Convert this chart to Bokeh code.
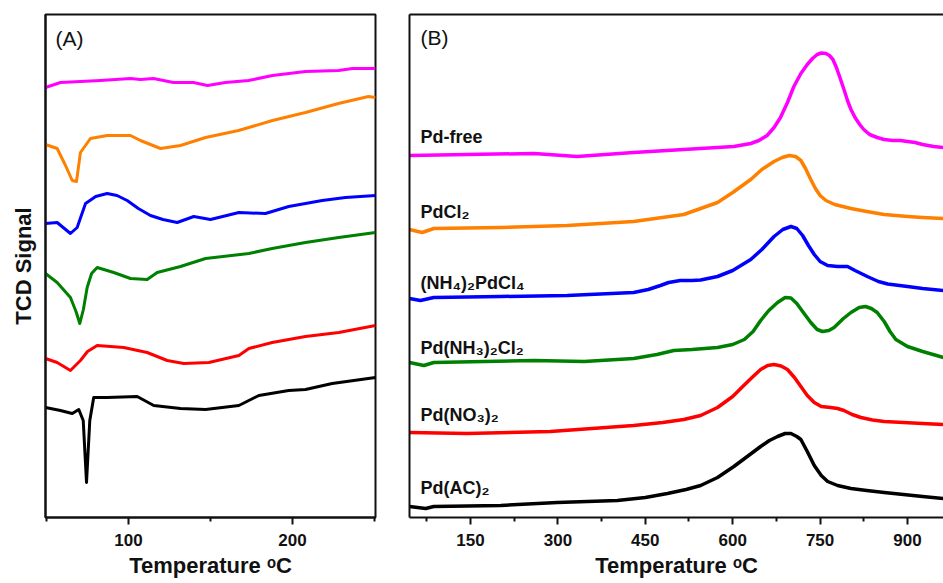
from bokeh.plotting import figure
from bokeh.layouts import row
from bokeh.models import Range1d, FixedTicker, LinearAxis, Label
from bokeh.embed import file_html
from bokeh.resources import INLINE

FONT = "Liberation Sans"

# ---------------- Panel (A): low-temperature region ----------------
a_ticks = [100, 200]
a_minor = [50, 150, 250]

a_pdfree_x = [49.4, 58.5, 70.7, 82.9, 101.2, 107.3, 115.2, 127.4, 139.6, 148.2, 159.1, 173.2, 187.8, 207.9, 228.0, 236.6, 249.4, 250.6]
a_pdfree_y = [430, 435, 436, 437, 439, 438, 439, 435, 435, 432, 435, 437, 442, 446, 447, 449, 449, 449]

a_pdcl2_x = [49.4, 56.5, 61.6, 65.7, 68.3, 70.7, 76.8, 87.0, 101.2, 107.3, 119.5, 131.7, 147.0, 167.1, 187.8, 207.9, 228.0, 246.3, 250.6]
a_pdcl2_y = [373, 369, 352, 337, 336, 365, 379, 382, 382, 377, 369, 372, 380, 387, 397, 405, 414, 421, 420]

a_nh4_x = [49.4, 56.5, 64.6, 68.7, 73.8, 80.0, 87.0, 93.0, 99.2, 106.0, 113.4, 121.0, 129.7, 139.8, 150.0, 167.3, 183.5, 197.7, 218.1, 232.3, 250.6]
a_nh4_y = [294, 295, 284, 290, 314, 321, 324, 322, 317, 309, 302, 298, 295, 301, 298, 305, 304, 311, 317, 320, 322]

a_nh3_x = [49.4, 56.5, 64.6, 68.0, 70.3, 72.5, 74.8, 77.5, 80.9, 91.0, 101.2, 111.4, 117.5, 131.7, 147.0, 173.4, 187.6, 207.9, 228.2, 250.6]
a_nh3_y = [244, 235, 220, 206, 194, 208, 230, 244, 250, 245, 239, 238, 245, 251, 259, 264, 269, 275, 280, 285]

a_no3_x = [49.4, 56.5, 64.6, 70.7, 75.0, 80.9, 97.1, 111.4, 123.6, 133.7, 149.0, 167.3, 173.4, 187.6, 207.9, 228.2, 250.6]
a_no3_y = [159, 155, 147, 157, 166, 172, 170, 165, 157, 154, 155, 162, 169, 175, 181, 185, 192]

a_ac_x = [49.4, 58.5, 65.7, 69.7, 72.4, 74.4, 76.4, 78.8, 87.0, 105.3, 115.4, 131.7, 147.0, 167.3, 179.5, 197.7, 207.9, 224.2, 250.6]
a_ac_y = [110, 107, 104, 108, 97, 35, 97, 120, 120, 121, 112, 109, 108, 112, 122, 127, 128, 134, 140]

# ---------------- Panel (B): full TPR profiles ----------------
b_ticks = [150, 300, 450, 600, 750, 900]
b_minor = [75, 225, 375, 525, 675, 825]

b_pdfree_x = [45.3, 144, 259, 333, 430, 516, 602, 631, 645, 659, 671, 682, 694, 705, 717, 728, 737, 745, 752, 760, 766, 772, 778, 784, 791, 797, 803, 810, 818, 825, 835, 848, 860, 875, 888, 900, 913, 926, 945, 962]
b_pdfree_y = [362, 363, 364, 361, 365, 368, 371, 374, 377, 382, 390, 400, 415, 431, 444, 453, 459, 463, 464.5, 464, 462, 458, 450, 440, 428, 417, 408, 400, 393, 388, 383, 380, 378, 377, 377, 376, 375, 373, 371, 370]

b_pdcl2_x = [45.3, 67, 87, 202, 316, 430, 516, 574, 600, 631, 650, 671, 685, 697, 708, 717, 725, 734, 742, 750, 760, 775, 803, 830, 860, 900, 926, 962]
b_pdcl2_y = [288, 285, 289, 290, 292, 296, 303, 315, 325, 338, 348, 356, 360, 362, 361, 357, 349, 338, 329, 322, 317, 313, 309, 306, 303, 301, 300, 299]

b_nh4_x = [45.3, 64, 87, 202, 316, 430, 455, 476, 490, 510, 530, 545, 574, 600, 631, 650, 671, 686, 700, 710, 720, 730, 740, 750, 763, 780, 797, 810, 831, 850, 866, 900, 926, 962]
b_nh4_y = [219, 217, 220, 221, 222, 225, 228, 232, 235, 237, 237, 237.5, 241, 247, 258, 268, 281, 288, 291, 289, 282, 272, 263, 256, 252, 251, 251, 247, 241, 236, 233.5, 231, 229, 227]

b_nh3_x = [45.3, 70, 87, 259, 345, 430, 470, 499, 530, 574, 600, 620, 635, 648, 662, 677, 690, 700, 710, 720, 734, 745, 754, 765, 774, 790, 803, 817, 828, 838, 848, 860, 870, 880, 900, 926, 962]
b_nh3_y = [155, 152, 155, 157, 156, 159, 163, 167, 168, 170, 173, 178, 186, 197, 207, 215, 220, 219.5, 214, 206, 195, 188, 186, 187, 190, 199, 205, 210, 211, 209, 205, 196, 186, 178, 171, 166, 160]

b_no3_x = [45.3, 144, 287, 430, 480, 516, 545, 574, 600, 619, 635, 648, 660, 671, 683, 694, 706, 717, 728, 740, 752, 768, 780, 791, 805, 820, 840, 860, 926, 962]
b_no3_y = [85, 84, 86, 92, 95, 98, 102, 110, 121, 132, 141, 148, 152, 153, 151.5, 148, 140, 131, 122, 115, 111, 110, 109, 107, 103, 100, 97.5, 96, 94, 93]

b_ac_x = [45.3, 73, 87, 202, 299, 402, 450, 488, 520, 545, 574, 602, 625, 648, 663, 677, 690, 700, 710, 717, 728, 740, 752, 763, 780, 803, 830, 860, 926, 962]
b_ac_y = [11, 9, 11, 12, 15, 17, 20, 24, 28, 32, 40, 51, 61, 71, 77, 81, 84, 84, 81, 78, 66, 52, 42, 36, 32, 29, 27, 25, 21, 19]

b_labels = ["Pd-free", "PdCl\u2082", "(NH\u2084)\u2082PdCl\u2084", "Pd(NH\u2083)\u2082Cl\u2082", "Pd(NO\u2083)\u2082", "Pd(AC)\u2082"]

colors = ["#FF00FF", "#FF8000", "#0000FF", "#008000", "#FF0000", "#000000"]


def style_axis(ax):
    ax.axis_line_width = 2
    ax.axis_line_color = "#111111"
    ax.major_tick_line_width = 2
    ax.minor_tick_line_width = 2
    ax.major_tick_line_color = "#111111"
    ax.minor_tick_line_color = "#111111"
    ax.major_tick_in = 0
    ax.major_tick_out = 7
    ax.minor_tick_in = 0
    ax.minor_tick_out = 4
    ax.major_label_text_font = FONT
    ax.major_label_text_font_style = "bold"
    ax.major_label_text_font_size = "17px"
    ax.major_label_text_color = "#111111"
    ax.major_label_standoff = 9
    ax.axis_label_text_font = FONT
    ax.axis_label_text_font_style = "bold"
    ax.axis_label_text_font_size = "22px"
    ax.axis_label_text_color = "#111111"
    ax.axis_label_standoff = 4


def blank_axis(**kw):
    ax = LinearAxis(ticker=FixedTicker(ticks=[]), **kw)
    style_axis(ax)
    ax.major_label_text_font_size = "0px"
    return ax


# ---------- figure A ----------
pA = figure(width=390, height=583, output_backend="svg", toolbar_location=None,
            x_range=Range1d(49.4, 250.6), y_range=Range1d(0, 503),
            x_axis_type=None, y_axis_type=None,
            min_border_left=45, min_border_right=15, min_border_top=14, min_border_bottom=66)
pA.outline_line_color = "#111111"
pA.outline_line_width = 2
pA.background_fill_color = "white"
pA.border_fill_color = "white"

xa = LinearAxis(ticker=FixedTicker(ticks=a_ticks, minor_ticks=a_minor), axis_label="Temperature \u1d52C")
style_axis(xa)
pA.add_layout(xa, "below")
ya = blank_axis(axis_label="TCD Signal")
ya.axis_label_standoff = 10
pA.add_layout(ya, "left")

a_series = [(a_pdfree_x, a_pdfree_y), (a_pdcl2_x, a_pdcl2_y), (a_nh4_x, a_nh4_y),
            (a_nh3_x, a_nh3_y), (a_no3_x, a_no3_y), (a_ac_x, a_ac_y)]
for (xs, ys), c in zip(a_series, colors):
    pA.line(xs, ys, line_color=c, line_width=3, line_join="round")

pA.add_layout(Label(x=55.5, y=491, text="(A)", text_font=FONT, text_font_size="21px",
                    text_baseline="top", text_color="#111111"))

# ---------- figure B ----------
pB = figure(width=553, height=583, output_backend="svg", toolbar_location=None,
            x_range=Range1d(45.3, 961.8), y_range=Range1d(0, 503),
            x_axis_type=None, y_axis_type=None,
            min_border_left=19, min_border_right=0, min_border_top=14, min_border_bottom=66)
pB.outline_line_color = None
pB.background_fill_color = "white"
pB.border_fill_color = "white"

xb = LinearAxis(ticker=FixedTicker(ticks=b_ticks, minor_ticks=b_minor), axis_label="Temperature \u1d52C")
style_axis(xb)
pB.add_layout(xb, "below")
pB.add_layout(blank_axis(), "left")
pB.add_layout(blank_axis(), "above")

b_series = [(b_pdfree_x, b_pdfree_y), (b_pdcl2_x, b_pdcl2_y), (b_nh4_x, b_nh4_y),
            (b_nh3_x, b_nh3_y), (b_no3_x, b_no3_y), (b_ac_x, b_ac_y)]
for (xs, ys), c in zip(b_series, colors):
    pB.line(xs, ys, line_color=c, line_width=3.5, line_join="round")

label_y = [381, 306, 235, 170, 103, 30]
for txt, yy in zip(b_labels, label_y):
    pB.add_layout(Label(x=64, y=yy, text=txt, text_font=FONT, text_font_style="bold",
                        text_font_size="18px", text_baseline="alphabetic", text_color="#111111"))

pB.add_layout(Label(x=64, y=492, text="(B)", text_font=FONT, text_font_size="21px",
                    text_baseline="top", text_color="#111111"))

layout = row(pA, pB)
open("out.html", "w").write(file_html(layout, INLINE))
